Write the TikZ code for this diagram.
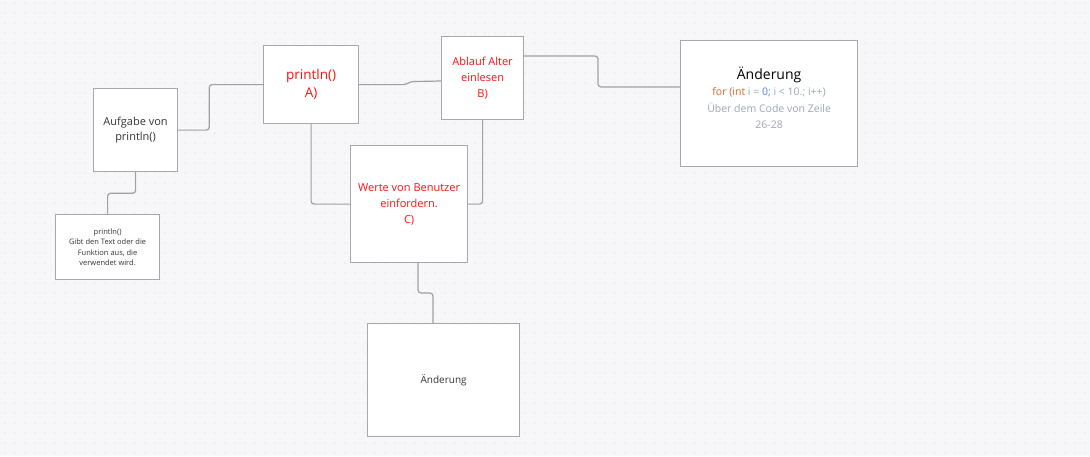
\documentclass[tikz,border=0pt]{standalone}
\usepackage{fontspec}
\setmainfont{Open Sans}
\usetikzlibrary{calc}
\definecolor{bgc}{HTML}{F7F7F9}
\definecolor{dotc}{HTML}{D4D4DA}
\definecolor{boxc}{HTML}{A8A8A8}
\definecolor{linec}{HTML}{A0A0A4}
\definecolor{redc}{HTML}{FF1010}
\definecolor{txtc}{HTML}{333333}
\definecolor{kwc}{HTML}{CC6A2A}
\definecolor{numc}{HTML}{4A8ACB}
\definecolor{greyc}{HTML}{9CA6B6}
\tikzset{
  box/.style={draw=boxc, line width=1.2pt, fill=white, anchor=north west, inner sep=0pt, align=center},
  conn/.style={draw=linec, line width=1.2pt, rounded corners=3pt},
}
\begin{document}
\begin{tikzpicture}[x=1pt,y=-1pt]
\fill[bgc] (0,0) rectangle (1090,456);
\useasboundingbox (0,0) rectangle (1090,456);
\foreach \i in {0,...,108} {
  \foreach \j in {0,...,45} {
    \fill[dotc] (\i*10+5,\j*10+3) circle (0.7);
  }
}
% nodes
\node[box, minimum width=84pt, minimum height=83pt, text=txtc, font=\fontsize{11}{15}\selectfont] (aufg) at (93,88) {Aufgabe von\\println()};
\node[box, minimum width=95pt, minimum height=78pt, text=redc, font=\fontsize{13.5}{18}\selectfont] (a) at (263,45) {println()\\A)};
\node[box, minimum width=82pt, minimum height=83pt, text=redc, font=\fontsize{11}{16}\selectfont] (b) at (441,36) {Ablauf Alter\\einlesen\\B)};
\node[box, minimum width=117pt, minimum height=117pt, text=redc, font=\fontsize{11}{16}\selectfont] (c) at (350,145) {Werte von Benutzer\\einfordern.\\C)};
\node[box, minimum width=152pt, minimum height=113pt, text=txtc, font=\fontsize{10}{14}\selectfont] (d) at (367,323) {Änderung};
\node[box, minimum width=104pt, minimum height=65pt, text=txtc, font=\fontsize{7.5}{10.5}\selectfont] (small) at (55,214) {println()\\Gibt den  Text oder die\\Funktion aus, die\\verwendet wird.};
\node[box, minimum width=177pt, minimum height=126pt] (ar) at (680,40) {};
\node[align=center, inner sep=0pt, font=\fontsize{10.5}{16.5}\selectfont] (artext) at ($(ar.center)+(0,-6)$) {{\fontsize{14}{18}\selectfont\color{black}Änderung}\\{\color{kwc}for (int} {\color{greyc}i =} {\color{numc}0;} {\color{greyc}i < 10.; i++)}\\{\color{greyc}Über dem Code von Zeile}\\{\color{greyc}26-28}};
% connector helper coordinates
\coordinate (bin) at (441,81);
\coordinate (bout) at (523,56);
\coordinate (arin) at (680,87);
\coordinate (cout) at (418,262);
\coordinate (din) at (433,323);
% connectors
\draw[conn] (aufg.east) -- ++(31,0) |- (a.west);
\draw[conn] (a.east) -- ++(47,0) -- ++(4,-3) -- (bin);
\draw[conn] (a.south) |- (c.west);
\draw[conn] (b.south) |- (c.east);
\draw[conn] (bout) -- ++(75,0) |- (arin);
\draw[conn] (aufg.south) -- ++(0,21) -| (small.north);
\draw[conn] (cout) -- ++(0,31) -| (din);
\end{tikzpicture}
\end{document}
